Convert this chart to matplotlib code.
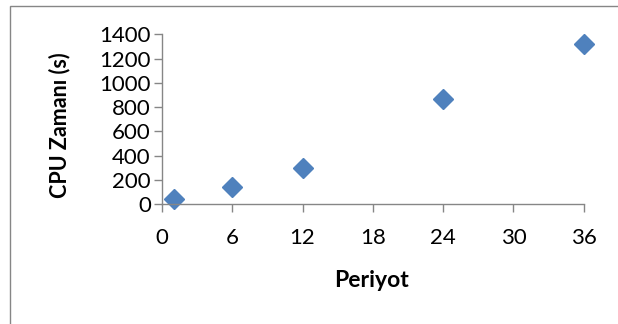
import matplotlib.pyplot as plt
from matplotlib.patches import Rectangle

# periods vs. cpu time
periyot = [1, 6, 12, 24, 36]
cpu_zamani = [44, 142, 296, 867, 1318]

x_ticks = [0, 6, 12, 18, 24, 30, 36]
y_ticks = [0, 200, 400, 600, 800, 1000, 1200, 1400]

plt.rcParams['font.family'] = ['Lato', 'DejaVu Sans']

fig = plt.figure(figsize=(6.18, 3.24), dpi=100)
ax = fig.add_axes([0.2621, 0.3694, 0.9445 - 0.2621, 0.8941 - 0.3694])

axis_color = '#868686'

ax.plot(periyot, cpu_zamani, linestyle='none', marker='D', markersize=10,
        color='#4F81BD', markeredgecolor='#4F81BD', clip_on=False)

ax.set_xlim(0, 36)
ax.set_ylim(0, 1400)
ax.set_xticks(x_ticks)
ax.set_yticks(y_ticks)

for side in ['top', 'right']:
    ax.spines[side].set_visible(False)
for side in ['left', 'bottom']:
    ax.spines[side].set_color(axis_color)
    ax.spines[side].set_linewidth(1.0)

ax.tick_params(axis='both', direction='out', length=6, width=1.0,
               color=axis_color, labelsize=16, labelcolor='black')
ax.tick_params(axis='x', pad=11)
ax.tick_params(axis='y', pad=2)

fig.text(0.0971, 0.6127, 'CPU Zamanı (s)', rotation=90, ha='center', va='center',
         fontsize=15.5, fontweight='bold')
fig.text(0.6019, 0.1358, 'Periyot', ha='center', va='center',
         fontsize=16.5, fontweight='bold')

# chart area border
fig.patches.append(Rectangle((10 / 618, -0.1), 1.2, 0.9815 + 0.1, transform=fig.transFigure,
                             fill=False, edgecolor=axis_color, linewidth=1.0))

fig.savefig('out.png', dpi=100)
